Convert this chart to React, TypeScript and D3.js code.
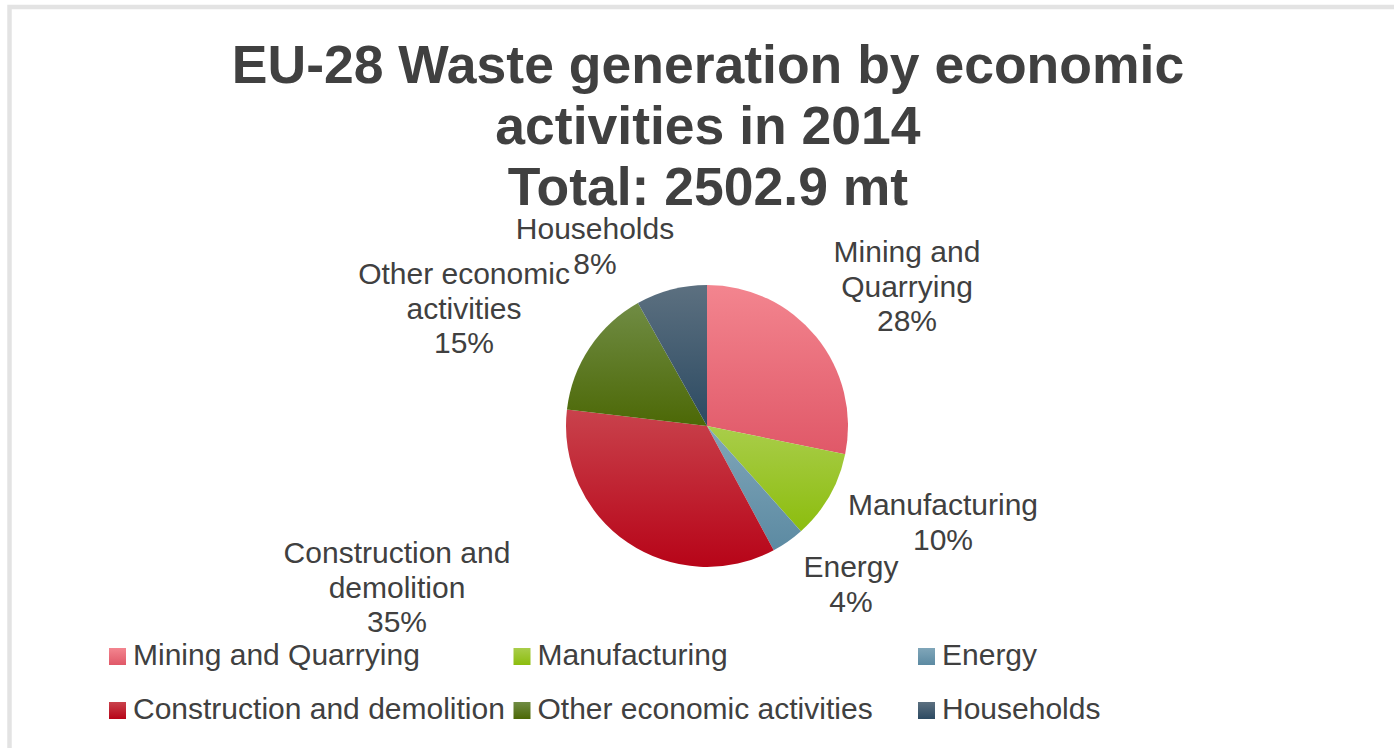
import React from "react";
import * as d3 from "d3";

const categories = [
  "Mining and Quarrying",
  "Manufacturing",
  "Energy",
  "Construction and demolition",
  "Other economic activities",
  "Households",
];
// million tonnes, EU-28, 2014 (total 2502.9 mt)
const values = [705.8, 255.3, 94.1, 868.5, 375.3, 203.9];
const labelLines = [
  ["Mining and", "Quarrying"],
  ["Manufacturing"],
  ["Energy"],
  ["Construction and", "demolition"],
  ["Other economic", "activities"],
  ["Households"],
];
const titleLines = [
  "EU-28 Waste generation by economic",
  "activities in 2014",
  "Total: 2502.9 mt",
];
const gradTop = ["#f3858f", "#a9cd4a", "#80a6b9", "#c9424c", "#708c44", "#5c7080"];
const gradBottom = ["#e05868", "#8cbd0e", "#5c8aa2", "#b70418", "#4c6806", "#2c4a62"];
// label placement (first baseline) relative to pie centre, emulating best-fit labels
const labelDx = [200, 236, 144, -310, -243, -112];
const labelDy = [-164, 89, 151, 137, -142, -187];

const W = 1394;
const H = 748;
const cx = 707;
const cy = 426;
const R = 141;
const FONT = "'Liberation Sans', Arial, sans-serif";
const TEXT = "#404040";
const LH = 34.5;

export default function App() {
  const total = d3.sum(values);
  const pie = d3.pie<number>().sort(null).value((d) => d)(values);
  const arc = d3.arc<d3.PieArcDatum<number>>().innerRadius(0).outerRadius(R);
  const pct = d3.format(".0%");

  const legendX = d3.scalePoint<number>().domain([0, 1, 2]).range([109, 918]);
  const legendY = d3.scalePoint<number>().domain([0, 1]).range([665, 719]);

  return (
    <div style={{ position: "fixed", left: 0, top: 0, width: W, height: H, background: "#fff" }}>
      <svg width={W} height={H} style={{ display: "block" }}>
        <defs>
          {categories.map((c, i) => (
            <linearGradient key={c} id={`g${i}`} x1="0" y1="0" x2="0" y2="1">
              <stop offset="0%" stopColor={gradTop[i]} />
              <stop offset="100%" stopColor={gradBottom[i]} />
            </linearGradient>
          ))}
        </defs>
        <rect x={9.5} y={7} width={1500} height={900} fill="none" stroke="#e3e3e3" strokeWidth={4.5} />
        <g fontFamily={FONT} fill={TEXT} textAnchor="middle" fontWeight="bold" fontSize={53.5}>
          {titleLines.map((t, i) => (
            <text key={i} x={708} y={83 + i * 61}>
              {t}
            </text>
          ))}
        </g>
        <g transform={`translate(${cx},${cy})`}>
          {pie.map((p, i) => (
            <path key={i} d={arc(p) || ""} fill={`url(#g${i})`} />
          ))}
          {pie.map((p, i) => {
            const lines = [...labelLines[i], pct(values[i] / total)];
            return (
              <text
                key={`l${i}`}
                fontFamily={FONT}
                fontSize={30}
                fill={TEXT}
                textAnchor="middle"
              >
                {lines.map((ln, j) => (
                  <tspan key={j} x={labelDx[i]} y={labelDy[i] + j * LH}>
                    {ln}
                  </tspan>
                ))}
              </text>
            );
          })}
        </g>
        <g fontFamily={FONT} fontSize={30} fill={TEXT}>
          {categories.map((c, i) => {
            const x = legendX(i % 3) as number;
            const y = legendY(Math.floor(i / 3)) as number;
            return (
              <g key={c}>
                <rect x={x} y={y - 17} width={17} height={17} fill={`url(#g${i})`} />
                <text x={x + 24} y={y}>
                  {c}
                </text>
              </g>
            );
          })}
        </g>
      </svg>
    </div>
  );
}
